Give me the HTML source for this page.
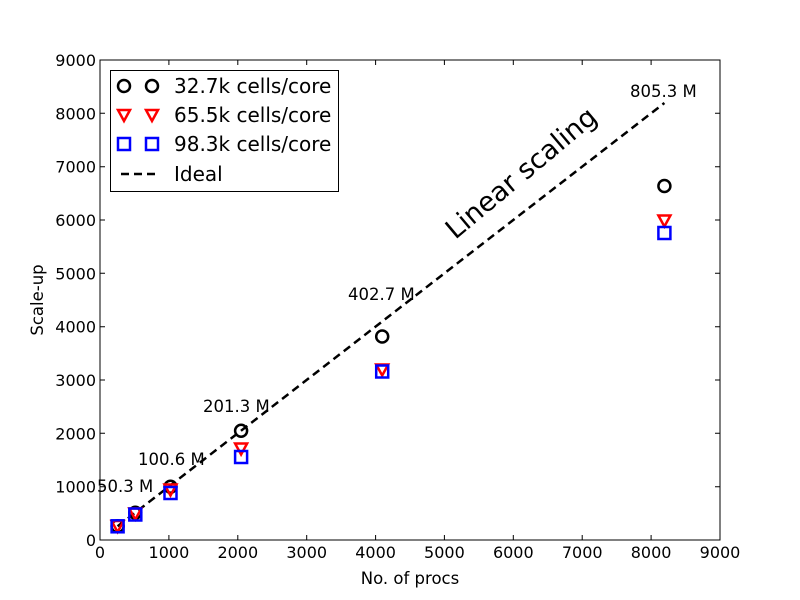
<!DOCTYPE html>
<html><head><meta charset="utf-8"><style>body{margin:0;background:#fff}svg{display:block}text{font-family:"DejaVu Sans","Liberation Sans",sans-serif}</style></head><body>
<svg width="800" height="600" xmlns="http://www.w3.org/2000/svg">
<rect width="800" height="600" fill="#fff"/>
<g stroke="#000" stroke-width="1">
<path d="M100,540v-5M100,60v5M168.9,540v-5M168.9,60v5M237.8,540v-5M237.8,60v5M306.7,540v-5M306.7,60v5M375.6,540v-5M375.6,60v5M444.4,540v-5M444.4,60v5M513.3,540v-5M513.3,60v5M582.2,540v-5M582.2,60v5M651.1,540v-5M651.1,60v5M720,540v-5M720,60v5"/>
<path d="M100,540h5M720,540h-5M100,486.7h5M720,486.7h-5M100,433.3h5M720,433.3h-5M100,380h5M720,380h-5M100,326.7h5M720,326.7h-5M100,273.3h5M720,273.3h-5M100,220h5M720,220h-5M100,166.7h5M720,166.7h-5M100,113.3h5M720,113.3h-5M100,60h5M720,60h-5"/>
</g>
<g font-size="16" fill="#000" text-anchor="middle">
<text x="100" y="558">0</text><text x="168.9" y="558">1000</text><text x="237.8" y="558">2000</text><text x="306.7" y="558">3000</text><text x="375.6" y="558">4000</text><text x="444.4" y="558">5000</text><text x="513.3" y="558">6000</text><text x="582.2" y="558">7000</text><text x="651.1" y="558">8000</text><text x="720" y="558">9000</text>
</g>
<g font-size="16" fill="#000" text-anchor="end">
<text x="96" y="546">0</text><text x="96" y="492.7">1000</text><text x="96" y="439.3">2000</text><text x="96" y="386">3000</text><text x="96" y="332.7">4000</text><text x="96" y="279.3">5000</text><text x="96" y="226">6000</text><text x="96" y="172.7">7000</text><text x="96" y="119.3">8000</text><text x="96" y="66">9000</text>
</g>
<text x="410" y="584" font-size="16.5" text-anchor="middle">No. of procs</text>
<text transform="translate(43,300) rotate(-90)" font-size="16.5" text-anchor="middle">Scale-up</text>
<line x1="117.6" y1="526.3" x2="664.4" y2="103" stroke="#000" stroke-width="2.5" stroke-dasharray="8,5"/>
<g fill="none" stroke-width="2.5">
<g stroke="#000">
<circle cx="117.6" cy="526.3" r="6"/><circle cx="135.3" cy="512.7" r="6"/><circle cx="170.5" cy="486.7" r="6"/><circle cx="241.1" cy="430.8" r="6"/><circle cx="382.2" cy="336.5" r="6"/><circle cx="664.4" cy="186" r="6"/>
</g>
<g stroke="#f00">
<path d="M111.6,521l12,0l-6,11z"/><path d="M129.3,508.5l12,0l-6,11z"/><path d="M164.5,484.5l12,0l-6,11z"/><path d="M235.1,443.5l12,0l-6,11z"/><path d="M376.2,364.5l12,0l-6,11z"/><path d="M658.4,215.5l12,0l-6,11z"/>
</g>
<g stroke="#00f">
<rect x="111.6" y="520.3" width="12" height="12"/><rect x="129.3" y="508.5" width="12" height="12"/><rect x="164.5" y="487" width="12" height="12"/><rect x="235.1" y="451" width="12" height="12"/><rect x="376.2" y="365.5" width="12" height="12"/><rect x="658.4" y="227" width="12" height="12"/>
</g>
</g>
<rect x="100" y="60" width="620" height="480" fill="none" stroke="#000" stroke-width="1"/>
<g font-size="16.5" fill="#000">
<text x="97" y="492">50.3 M</text><text x="138" y="465">100.6 M</text><text x="203" y="412">201.3 M</text><text x="348" y="300">402.7 M</text><text x="630" y="97">805.3 M</text>
</g>
<text transform="translate(527,180) rotate(-40)" font-size="27" text-anchor="middle">Linear scaling</text>
<rect x="110.5" y="70.5" width="228" height="121" fill="#fff" stroke="#000"/>
<g fill="none" stroke-width="2.5">
<circle cx="124" cy="86" r="6" stroke="#000"/><circle cx="152" cy="86" r="6" stroke="#000"/>
<path d="M118,110l12,0l-6,11z M146,110l12,0l-6,11z" stroke="#f00"/>
<rect x="118" y="138" width="12" height="12" stroke="#00f"/><rect x="146" y="138" width="12" height="12" stroke="#00f"/>
<line x1="121" y1="174" x2="157" y2="174" stroke="#000" stroke-dasharray="8,5"/>
</g>
<g font-size="20" fill="#000">
<text x="174" y="93">32.7k cells/core</text><text x="174" y="122">65.5k cells/core</text><text x="174" y="151">98.3k cells/core</text><text x="174" y="181">Ideal</text>
</g>
</svg>
</body></html>
